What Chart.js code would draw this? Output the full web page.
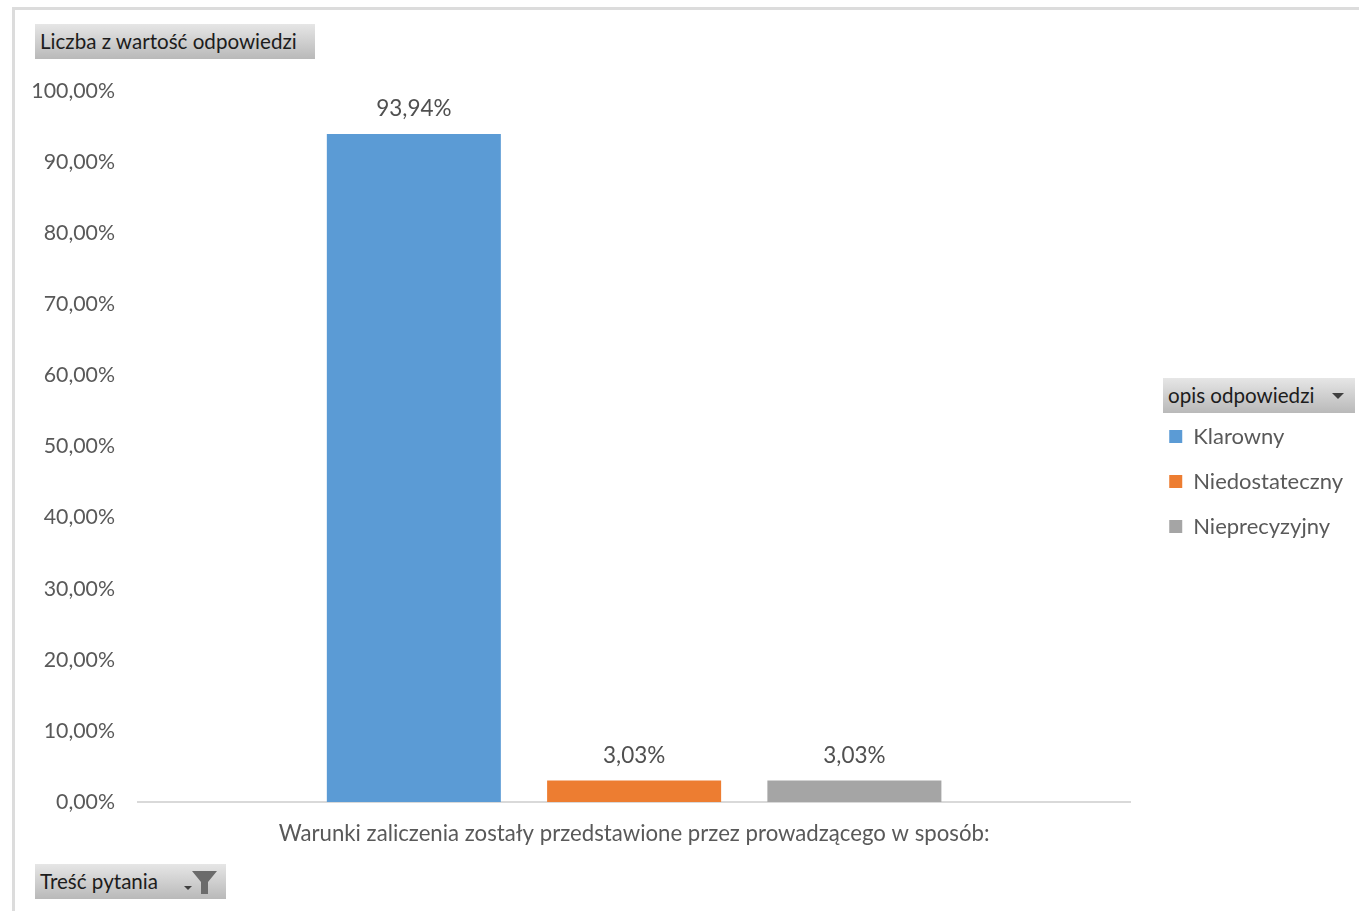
<!DOCTYPE html>
<html lang="pl">
<head>
<meta charset="utf-8">
<title>Liczba z wartość odpowiedzi</title>
<script src="https://cdn.jsdelivr.net/npm/chart.js@4"></script>
<style>
    html, body { margin: 0; padding: 0; background: #fff; }
    #wrap { position: relative; width: 1359px; height: 911px; overflow: hidden; }
    #frame { position: absolute; left: 12px; top: 7px; width: 1360px; height: 920px; border: 3px solid #dcdcdc; box-sizing: border-box; }
    .btn {
        position: absolute; height: 35px; padding-left: 5px; box-sizing: border-box;
        background: linear-gradient(#e6e6e6, #b9b9b9); color: #1c1c1c;
        font: 20.6px/35px Lato, sans-serif; white-space: nowrap;
    }
    .btn svg { position: absolute; top: 0; }
    canvas { position: absolute; left: 0; top: 0; }
</style>
</head>
<body>
<div id="wrap">
    <div id="frame"></div>
    <canvas id="wykres" width="1359" height="911"></canvas>
    <div class="btn" style="left:35px;top:24px;width:280px">Liczba z wartość odpowiedzi</div>
    <div class="btn" style="left:1163px;top:378px;width:192px">opis odpowiedzi
        <svg style="left:168px" width="16" height="35"><path d="M1 15h12l-6 6z" fill="#404040"/></svg>
    </div>
    <div class="btn" style="left:35px;top:864px;width:191px">Treść pytania
        <svg style="left:147px" width="40" height="35"><path d="M2 22h8l-4 4z" fill="#404040"/><path d="M10 7h25l-9 11v12h-7v-12z" fill="#6b6b6b"/></svg>
    </div>
</div>
<script>
const kategorie = ['Warunki zaliczenia zostały przedstawione przez prowadzącego w sposób:'];
const serie = ['Klarowny', 'Niedostateczny', 'Nieprecyzyjny'];
const wartosci = [93.94, 3.03, 3.03];
const kolory = ['#5b9bd5', '#ed7d31', '#a5a5a5'];

function procent(v) {
    return Number(v).toFixed(2).replace('.', ',') + '%';
}

// Etykiety nad słupkami
const etykiety = {
    id: 'etykiety',
    afterDatasetsDraw(chart) {
        const ctx = chart.ctx;
        ctx.save();
        ctx.font = '22.5px Lato, sans-serif';
        ctx.fillStyle = '#505050';
        ctx.textAlign = 'center';
        ctx.textBaseline = 'middle';
        chart.data.datasets.forEach((ds, i) => {
            const bar = chart.getDatasetMeta(i).data[0];
            ctx.fillText(procent(ds.data[0]), bar.x, bar.y - 25);
        });
        ctx.restore();
    }
};

new Chart(document.getElementById('wykres'), {
    type: 'bar',
    data: {
        labels: kategorie,
        datasets: serie.map((nazwa, i) => ({
            label: nazwa,
            data: [wartosci[i]],
            backgroundColor: kolory[i],
            categoryPercentage: 0.666,
            barPercentage: 0.79
        }))
    },
    options: {
        responsive: false,
        animation: false,
        layout: { padding: { left: 20, top: 91, right: 6, bottom: 39 } },
        plugins: {
            tooltip: { enabled: false },
            legend: {
                position: 'right',
                labels: {
                    boxWidth: 13,
                    boxHeight: 13,
                    padding: 23,
                    color: '#595959',
                    font: { family: 'Lato, sans-serif', size: 22 }
                }
            }
        },
        scales: {
            x: {
                grid: { display: false },
                border: { color: '#d9d9d9', width: 2 },
                ticks: { color: '#595959', font: { family: 'Lato, sans-serif', size: 22.2 }, padding: 11, maxRotation: 0 },
                afterFit: s => { s.height = 70; }
            },
            y: {
                min: 0,
                max: 100,
                grid: { display: false, drawTicks: false },
                border: { display: false },
                ticks: { stepSize: 10, color: '#595959', font: { family: 'Lato, sans-serif', size: 21.3 }, padding: 23, callback: procent },
                afterFit: s => { s.width = 118; }
            },
            // pusta oś, odstęp między wykresem a legendą
            odstep: {
                position: 'right',
                grid: { display: false },
                border: { display: false },
                ticks: { display: false },
                afterFit: s => { s.width = 16; }
            }
        }
    },
    plugins: [etykiety]
});
</script>
</body>
</html>
